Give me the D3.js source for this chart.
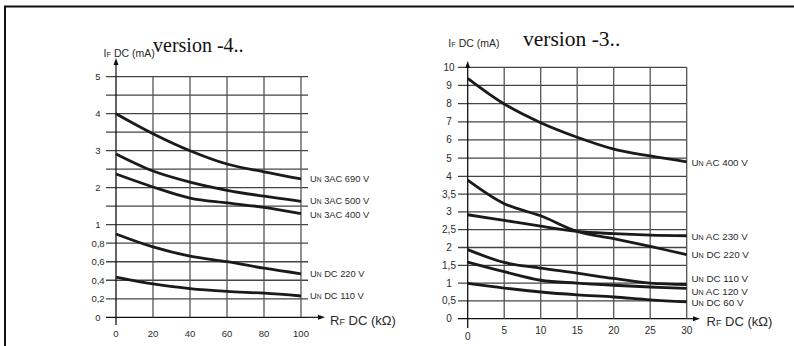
<!DOCTYPE html>
<html>
<head>
<meta charset="utf-8">
<script src="https://cdn.jsdelivr.net/npm/d3@7"></script>
<style>
  body { margin: 0; background: #fff; }
  svg { display: block; }
  text { font-family: "Liberation Sans", Arial, sans-serif; fill: #2a2a2a; }
  .title { font-family: "Liberation Serif", "Times New Roman", serif; fill: #111; }
</style>
</head>
<body>
<svg id="chart" width="794" height="346"></svg>
<script>
// ---- data: version -4 (left) ----
const leftX = [0, 20, 40, 60, 80, 100];
const leftYGrid = [0, 0.2, 0.4, 0.6, 0.8, 1, 1.5, 2, 2.5, 3, 3.5, 4, 4.5, 5];
const leftYLabels = [0, 0.2, 0.4, 0.6, 0.8, 1, 2, 3, 4, 5];
const leftNames = ["3AC 690 V", "3AC 500 V", "3AC 400 V", "DC 220 V", "DC 110 V"];
const ac690 = [4.0, 3.46, 3.0, 2.64, 2.43, 2.24];
const ac500 = [2.91, 2.45, 2.15, 1.93, 1.77, 1.63];
const ac400 = [2.37, 2.02, 1.72, 1.59, 1.47, 1.3];
const dc220L = [0.9, 0.76, 0.66, 0.6, 0.53, 0.47];
const dc110L = [0.435, 0.36, 0.31, 0.28, 0.26, 0.23];

// ---- data: version -3 (right) ----
const rightX = [0, 5, 10, 15, 20, 25, 30];
const rightYGrid = [0, 0.5, 1, 1.5, 2, 2.5, 3, 3.5, 4, 5, 6, 7, 8, 9, 10];
const rightYLabels = rightYGrid;
const rightNames = ["AC 400 V", "AC 230 V", "DC 220 V", "DC 110 V", "AC 120 V", "DC 60 V"];
const ac400R = [9.39, 7.98, 6.95, 6.15, 5.5, 5.12, 4.8];
const ac230R = [2.92, 2.76, 2.6, 2.45, 2.39, 2.35, 2.33];
const dc220R = [3.89, 3.23, 2.89, 2.45, 2.25, 2.03, 1.8];
const dc110R = [1.94, 1.58, 1.42, 1.28, 1.13, 1.0, 0.96];
const ac120R = [1.59, 1.32, 1.08, 1.0, 0.94, 0.89, 0.85];
const dc60R = [0.99, 0.86, 0.75, 0.67, 0.61, 0.53, 0.47];

const svg = d3.select("#chart");
const fmt = v => String(v).replace(".", ",");

// outer frame
svg.append("path")
  .attr("d", "M5,346 L5,6.5 L794,6.5")
  .attr("fill", "none").attr("stroke", "#111").attr("stroke-width", 2);

function drawPanel(p) {
  const g = svg.append("g");
  const x = d3.scaleLinear().domain(d3.extent(p.xs)).range(p.xRange);
  const y = d3.scaleLinear().domain(p.yDomain).range(p.yRange);
  const y0 = y(0), yTop = y(p.yDomain[p.yDomain.length - 1]);

  // horizontal grid
  g.selectAll(".hg").data(p.yGrid).enter().append("line")
    .attr("x1", p.gridLeft).attr("x2", p.gridRight)
    .attr("y1", d => y(d)).attr("y2", d => y(d))
    .attr("stroke", d => d === 0 ? "#111" : "#444").attr("stroke-width", 1.3);

  // vertical grid
  g.selectAll(".vg").data(p.xs).enter().append("line")
    .attr("x1", d => x(d)).attr("x2", d => x(d))
    .attr("y1", yTop).attr("y2", d => d === 0 ? p.axisBottom : y0)
    .attr("stroke", d => d === 0 ? "#111" : "#555").attr("stroke-width", 1.3);

  // y axis extension + arrow
  const ax = x(0);
  g.append("line").attr("x1", ax).attr("x2", ax).attr("y1", yTop).attr("y2", p.yArrow + 4)
    .attr("stroke", "#111").attr("stroke-width", 1.2);
  g.append("path").attr("d", `M${ax},${p.yArrow} L${ax - 2.5},${p.yArrow + 7} L${ax + 2.5},${p.yArrow + 7}Z`)
    .attr("fill", "#111");
  // x axis extension + arrow
  g.append("line").attr("x1", p.gridRight).attr("x2", p.xArrow - 4).attr("y1", y0).attr("y2", y0)
    .attr("stroke", "#111").attr("stroke-width", 1.2);
  g.append("path").attr("d", `M${p.xArrow},${y0} L${p.xArrow - 7},${y0 - 2.5} L${p.xArrow - 7},${y0 + 2.5}Z`)
    .attr("fill", "#111");

  // tick labels
  g.selectAll(".yl").data(p.yLabels).enter().append("text")
    .attr("x", p.yLabelX).attr("y", d => y(d)).attr("dy", "0.35em")
    .attr("text-anchor", "middle").attr("font-size", p.tickSize)
    .text(fmt);
  g.selectAll(".xl").data(p.xs).enter().append("text")
    .attr("x", d => x(d)).attr("y", d => p.xLabelY + (d === 0 ? p.zeroDrop : 0))
    .attr("text-anchor", "middle").attr("font-size", p.tickSize)
    .text(d => d);

  // axis titles
  const yt = g.append("text").attr("x", p.yTitle[0]).attr("y", p.yTitle[1]).attr("font-size", 10.5);
  yt.append("tspan").text("I");
  yt.append("tspan").attr("font-size", 7.5).text("F");
  yt.append("tspan").text(" DC (mA)");
  const xt = g.append("text").attr("x", p.xTitle[0]).attr("y", p.xTitle[1]).attr("font-size", 13);
  xt.append("tspan").text("R");
  xt.append("tspan").attr("font-size", 9).text("F");
  xt.append("tspan").text(" DC (k\u03A9)");

  g.append("text").attr("class", "title")
    .attr("x", p.title[0]).attr("y", p.title[1]).attr("font-size", p.titleSize)
    .text(p.titleText);

  // curves
  const line = d3.line().x((d, i) => x(p.xs[i])).y(d => y(d)).curve(d3.curveCatmullRom.alpha(0.5));
  p.series.forEach((s, k) => {
    g.append("path").attr("d", line(s))
      .attr("fill", "none").attr("stroke", "#1a1a1a").attr("stroke-width", 2.8)
      .attr("stroke-linejoin", "round");
    const lt = g.append("text")
      .attr("x", p.labelX).attr("y", y(s[s.length - 1]) + (p.nudge[k] || 0))
      .attr("dy", "0.35em").attr("font-size", p.labelSize);
    lt.append("tspan").text("U");
    lt.append("tspan").attr("font-size", p.labelSize * 0.72).text("N");
    lt.append("tspan").text(" " + p.names[k]);
  });
}

drawPanel({
  xs: leftX, xRange: [116, 301],
  yDomain: [0, 1, 5], yRange: [317.3, 224.7, 76.7],
  yGrid: leftYGrid, yLabels: leftYLabels,
  gridLeft: 106, gridRight: 308, axisBottom: 325,
  yArrow: 58, xArrow: 325,
  yLabelX: 98, xLabelY: 336.5, zeroDrop: 0, tickSize: 9.5,
  yTitle: [103.5, 57], xTitle: [330, 325],
  title: [153, 52], titleSize: 20, titleText: "version -4..",
  series: [ac690, ac500, ac400, dc220L, dc110L], names: leftNames,
  labelX: 310, labelSize: 9.3, nudge: [0, -1, 1, 0, -0.5]
});

drawPanel({
  xs: rightX, xRange: [467.7, 686.7],
  yDomain: [0, 4, 10], yRange: [318.7, 176.3, 67.3],
  yGrid: rightYGrid, yLabels: rightYLabels,
  gridLeft: 458, gridRight: 686.7, axisBottom: 328,
  yArrow: 61, xArrow: 700,
  yLabelX: 449, xLabelY: 334, zeroDrop: 6, tickSize: 10,
  yTitle: [448.3, 47], xTitle: [706.5, 326],
  title: [523, 46], titleSize: 21.5, titleText: "version -3..",
  series: [ac400R, ac230R, dc220R, dc110R, ac120R, dc60R], names: rightNames,
  labelX: 691.5, labelSize: 9.8, nudge: [0.5, 0.5, -0.5, -5.5, 3, 1]
});
</script>
</body>
</html>
